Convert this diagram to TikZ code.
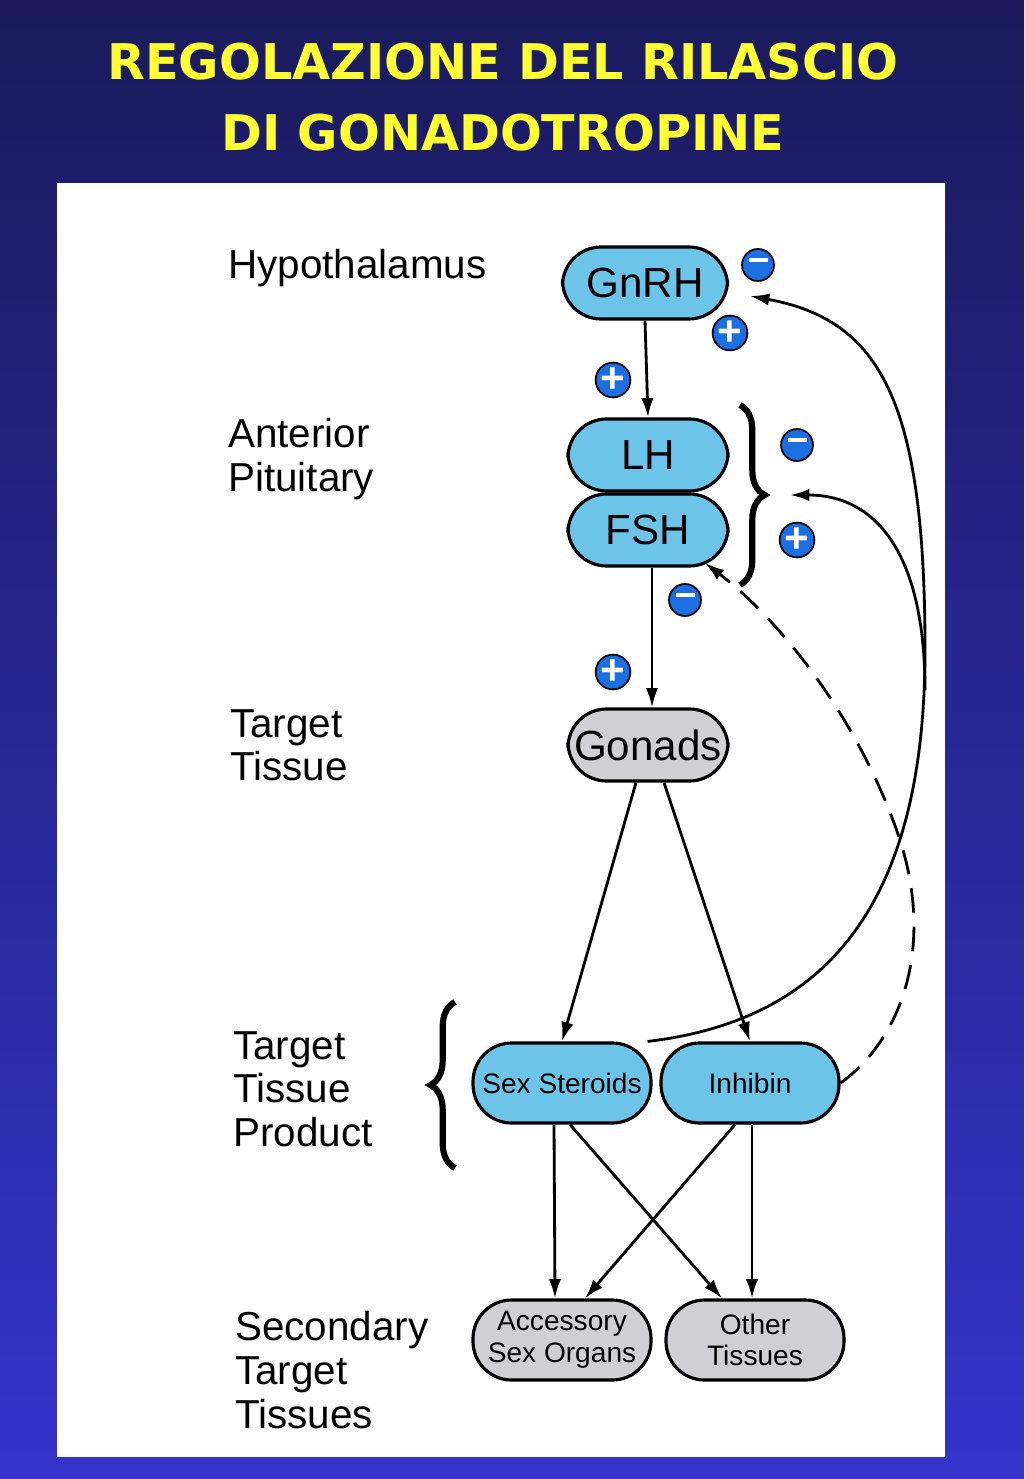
\documentclass[tikz,border=0pt]{standalone}
\usepackage{fontspec}
\setmainfont{Liberation Sans}
\newfontfamily\titlefont{DejaVu Sans}
\usetikzlibrary{decorations.pathreplacing,arrows.meta}
\definecolor{boxblue}{HTML}{6CC4E8}
\definecolor{boxgray}{HTML}{CFCFD4}
\definecolor{signblue}{HTML}{1C6FE0}
\definecolor{bgtop}{HTML}{1A1A5C}
\definecolor{bgbot}{HTML}{3434CC}
\definecolor{titleyellow}{HTML}{FFFF33}
\tikzset{
	box/.style={draw=black, line width=1.8pt, rounded corners=22pt, minimum width=160\pxu, minimum height=72\pxu, fill=boxblue, font=\fontsize{24}{26}\selectfont},
	smallbox/.style={box, minimum width=178\pxu, minimum height=80\pxu, font=\fontsize{16}{18}\selectfont, align=center},
	sign/.style={circle, draw=black, line width=1pt, fill=signblue, text=white, minimum size=32\pxu, inner sep=0pt, font=\bfseries\fontsize{24}{24}\selectfont},
	lbl/.style={anchor=north west, align=left, font=\fontsize{23}{25}\selectfont},
	arr/.style={-{Latex[length=11pt,width=7pt]}, line width=1.6pt}
}
\newcommand{\pxu}{*0.02cm}
\newcommand{\minussign}{\rule[0.22em]{0.45em}{0.09em}}
\begin{document}
\begin{tikzpicture}[x=0.02cm, y=-0.02cm]
	\shade[top color=bgtop, bottom color=bgbot] (0,0) rectangle (1024,1479);
	\useasboundingbox (0,0) rectangle (1024,1479);
	\fill[white] (57,183) rectangle (945,1457);
	\node[text=titleyellow, font=\titlefont\bfseries\fontsize{28}{40}\selectfont, align=center] at (503,97) {REGOLAZIONE DEL RILASCIO\\DI GONADOTROPINE};
	% row labels
	\node[lbl] at (222,243) {Hypothalamus};
	\node[lbl] at (222,412) {Anterior\\Pituitary};
	\node[lbl] at (224,703) {Target\\Tissue};
	\node[lbl] at (227,1025) {Target\\Tissue\\Product};
	\node[lbl] at (229,1305) {Secondary\\Target\\Tissues};
	% boxes
	\node[box, minimum width=165\pxu] (gnrh) at (645,283) {GnRH};
	\node[box] (lh) at (648,455) {LH};
	\node[box] (fsh) at (648,530) {FSH};
	\node[box, fill=boxgray] (gonads) at (648,745) {Gonads};
	\node[smallbox] (steroids) at (562,1083) {Sex Steroids};
	\node[smallbox] (inhibin) at (750,1083) {Inhibin};
	\node[smallbox, fill=boxgray] (accessory) at (562,1340) {Accessory\\Sex Organs};
	\node[smallbox, fill=boxgray] (other) at (755,1340) {Other\\Tissues};
	% braces
	\draw[line width=3.5pt, decorate, decoration={brace, amplitude=14pt}] (740,405) -- (740,585);
	\draw[line width=3.5pt, decorate, decoration={brace, amplitude=14pt}] (455,1168) -- (455,1002);
	\coordinate (bracetip) at (790,495);
	\coordinate (fshtip) at (705,563);
	% signs
	\node[sign] at (758,265) {\minussign};
	\node[sign] at (730,333) {+};
	\node[sign] at (613,380) {+};
	\node[sign] at (797,445) {\minussign};
	\node[sign] at (797,540) {+};
	\node[sign] at (685,600) {\minussign};
	\node[sign] at (613,672) {+};
	% stimulation
	\draw[arr] (gnrh.south) -- (lh.north);
	\draw[arr] (fsh.south) ++(4\pxu,0) -- (gonads.north -| 652,0);
	\draw[arr] (gonads.south) ++(-12\pxu,0) -- (steroids.north);
	\draw[arr] (gonads.south) ++(16\pxu,0) -- (inhibin.north);
	\draw[arr] (steroids.south) ++(-8\pxu,0) -- (accessory.north -| 555,0);
	\draw[arr] (steroids.south) ++(8\pxu,0) -- (other.north -| 722,0);
	\draw[arr] (inhibin.south) ++(-15\pxu,0) -- (accessory.north -| 585,0);
	\draw[arr] (inhibin.south) ++(2\pxu,0) -- (other.north -| 752,0);
	% feedback
	\draw[arr] (steroids.north east) ++(-5\pxu,0)
		.. controls (830,1020) and (925,900) .. (925,650)
		.. controls (925,400) and (880,320) .. (750,296);
	\draw[arr] (925,690) .. controls (925,560) and (880,495) .. (bracetip);
	\draw[arr, dash pattern=on 14pt off 8pt] (inhibin.east)
		.. controls (900,1040) and (935,950) .. (900,840)
		.. controls (860,720) and (780,620) .. (fshtip);
\end{tikzpicture}
\end{document}
